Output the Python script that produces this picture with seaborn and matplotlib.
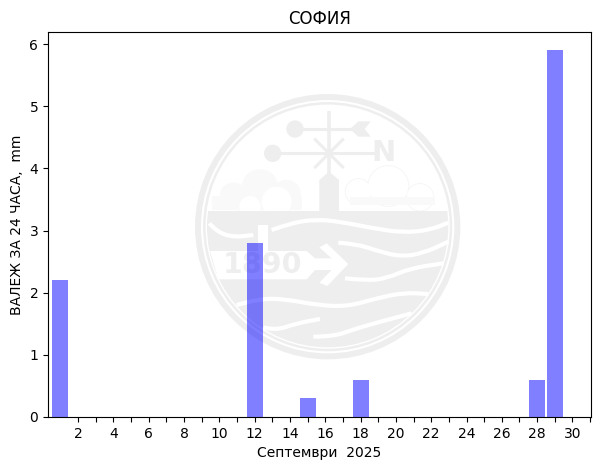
import numpy as np
import matplotlib
matplotlib.use("Agg")
import matplotlib.pyplot as plt
from matplotlib.patches import Circle, Polygon, PathPatch, Rectangle
from matplotlib.path import Path
import seaborn as sns

days = list(range(1, 31))
rain = [2.2, 0, 0, 0, 0, 0, 0, 0, 0, 0, 0, 2.8, 0, 0, 0.3, 0, 0, 0.6, 0, 0,
        0, 0, 0, 0, 0, 0, 0, 0.6, 5.9, 0]
major_days = list(range(2, 31, 2))
minor_days = list(range(3, 32, 2))

GRAY = "#eeeeee"
PALE = "#f9f9f9"


def smooth(points):
    # quadratic spline through the midpoints, only for the logo waves
    pts = np.array(points, dtype=float)
    verts = [pts[0]]
    codes = [Path.MOVETO]
    for i in range(1, len(pts) - 1):
        verts += [pts[i], (pts[i] + pts[i + 1]) / 2]
        codes += [Path.CURVE3, Path.CURVE3]
    verts.append(pts[-1])
    codes.append(Path.LINETO)
    return Path(verts, codes)


def cloud(ax, blobs, fill, edge):
    # edges first, fill on top, so only the outer outline is left
    for x, y, r in blobs:
        ax.add_patch(Circle((x, y), r, fc="none", ec=edge, lw=1.2))
    for x, y, r in blobs:
        ax.add_patch(Circle((x, y), r, fc=fill, ec="none"))


def draw_logo(ax):
    cx, cy = 413, 410
    ax.add_patch(Circle((cx, cy), 389, fc="none", ec=GRAY, lw=4.3))
    ax.add_patch(Circle((cx, cy), 370, fc="none", ec=GRAY, lw=1.8))

    # clouds
    cloud(ax, [(210, 292, 52), (130, 318, 38), (290, 312, 40)], PALE, PALE)
    ax.add_patch(Rectangle((65, 318), 270, 42, fc=PALE, ec="none"))
    cloud(ax, [(180, 350, 32), (260, 335, 45)], "white", PALE)
    cloud(ax, [(595, 288, 60), (505, 305, 38), (690, 322, 40)], "white", "#f5f5f5")
    ax.add_patch(Rectangle((480, 320), 255, 25, fc=PALE, ec="none"))

    # lower half of the disc
    disc = Circle((cx, cy), 362, fc=GRAY, ec="none")
    ax.add_patch(disc)
    disc.set_clip_path(Rectangle((0, 362), 830, 450, transform=ax.transData))

    # wind vane and tower
    ax.plot([417, 417], [62, 255], color=GRAY, lw=2.6, solid_capstyle="butt")
    ax.plot([315, 500], [117, 117], color=GRAY, lw=2.2, solid_capstyle="butt")
    ax.plot([248, 560], [190, 190], color=GRAY, lw=2.2, solid_capstyle="butt")
    ax.plot([376, 458], [149, 231], color=GRAY, lw=2.2)
    ax.plot([376, 458], [231, 149], color=GRAY, lw=2.2)
    ax.add_patch(Circle((315, 117), 26, fc=GRAY, ec="none"))
    ax.add_patch(Circle((248, 190), 26, fc=GRAY, ec="none"))
    ax.add_patch(Polygon([(480, 117), (505, 94), (542, 94), (524, 117), (542, 140), (505, 140)],
                         fc=GRAY, ec="none"))
    ax.add_patch(Polygon([(388, 365), (388, 270), (417, 245), (447, 270), (447, 365)],
                         fc=GRAY, ec="none"))
    ax.text(580, 190, "N", color=GRAY, fontsize=21, fontweight="bold", ha="center", va="center")

    # white waves
    waves = [
        [(58, 400), (80, 425), (130, 442), (190, 435)],
        [(245, 420), (300, 400), (375, 388), (450, 395), (550, 415), (640, 428), (720, 420), (775, 398)],
        [(445, 458), (500, 462), (560, 482), (630, 500), (700, 490), (775, 455)],
        [(465, 565), (530, 572), (590, 565), (660, 535), (760, 520)],
        [(140, 645), (210, 625), (290, 628), (380, 645), (470, 650), (560, 625), (640, 608), (715, 612)],
        [(220, 712), (255, 722), (320, 700), (390, 687)],
        [(370, 740), (430, 740), (500, 715), (590, 690), (665, 670)],
    ]
    for w in waves:
        ax.add_patch(PathPatch(smooth(w), fc="none", ec="white", lw=3.0, capstyle="butt"))

    # flag with year and arrow
    ax.add_patch(Rectangle((205, 405), 28, 80, fc="white", ec="none"))
    ax.add_patch(Polygon([(60, 483), (350, 483), (375, 505), (425, 505), (388, 472), (410, 460),
                          (475, 522), (412, 588), (388, 578), (425, 540), (375, 540), (350, 568),
                          (85, 568)], fc="white", ec="none"))
    ax.text(217, 526, "1890", color=GRAY, fontsize=20.5, fontweight="bold", ha="center", va="center")


fig = plt.figure(figsize=(6, 4.7), dpi=100)

logo_ax = fig.add_axes([0, 0, 1, 1], zorder=0)
logo_ax.set_xlim(-570, 1230)
logo_ax.set_ylim(1140, -270)
logo_ax.axis("off")
draw_logo(logo_ax)

ax = fig.add_axes([48 / 600, 53 / 470, 543 / 600, 385 / 470], zorder=1)
ax.patch.set_alpha(0)

sns.barplot(x=days, y=rain, native_scale=True, width=0.9, color="blue", alpha=0.5,
            saturation=1, errorbar=None, ax=ax)

ax.set_xlim(0.3, 31.05)
ax.set_ylim(0, 6.195)
ax.set_xticks(major_days)
ax.set_xticklabels([str(d) for d in major_days])
ax.set_xticks(minor_days, minor=True)
ax.tick_params(axis="x", which="minor", length=3.5, width=0.8)
ax.set_title("СОФИЯ", fontsize=12)
ax.set_xlabel("Септември  2025")
ax.set_ylabel("ВАЛЕЖ ЗА 24 ЧАСА,  mm")

fig.savefig("out.png", dpi=100)
